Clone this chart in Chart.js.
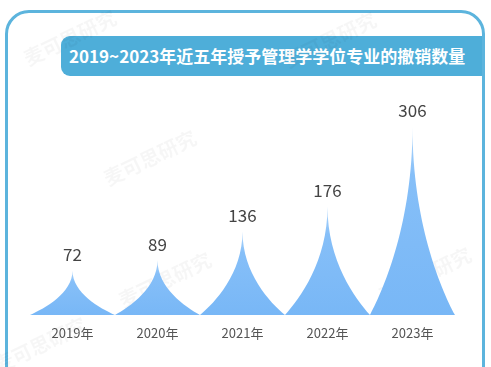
<!DOCTYPE html>
<html><head><meta charset="utf-8">
<script src="https://cdn.jsdelivr.net/npm/chart.js@4/dist/chart.umd.min.js"></script>
<style>
html,body{margin:0;padding:0;background:#fff;width:491px;height:367px;overflow:hidden;font-family:"Noto Sans CJK SC",sans-serif}
#frame{position:absolute;left:5px;top:10px;width:474px;height:420px;border:3px solid #5cb4dd;border-radius:24px;}
#title{position:absolute;left:61px;top:36px;width:421px;height:40px;background:#4eaed9;border-radius:9px 0 0 9px;color:#fff;font-weight:bold;font-size:17px;line-height:40px;padding-left:8px;box-sizing:border-box;white-space:nowrap}
#c{position:absolute;left:0;top:0}
</style></head>
<body>
<div id="frame"></div>
<div id="title">2019~2023年近五年授予管理学学位专业的撤销数量</div>
<canvas id="c" width="491" height="367"></canvas>
<script>
const categories = ["2019年","2020年","2021年","2022年","2023年"];
const revokedCounts = [72, 89, 136, 176, 306];
const watermarkText = "麦可思研究";

const watermarkPlugin = {
  id: 'watermark',
  beforeDatasetsDraw(chart) {
    const ctx = chart.ctx;
    const spots = [[70, 38], [330, 40], [150, 158], [165, 280], [425, 275], [40, 345]];
    ctx.save();
    ctx.fillStyle = 'rgba(0,0,0,0.035)';
    ctx.font = 'bold 20px "Noto Sans CJK SC", sans-serif';
    ctx.textAlign = 'center';
    ctx.textBaseline = 'middle';
    spots.forEach(([px, py]) => {
      ctx.save();
      ctx.translate(px, py);
      ctx.rotate(-0.45);
      ctx.fillText(watermarkText, 0, 0);
      ctx.restore();
    });
    ctx.restore();
  }
};

const spikePlugin = {
  id: 'spikes',
  afterDatasetsDraw(chart) {
    const ctx = chart.ctx;
    const meta = chart.getDatasetMeta(0);
    ctx.save();
    meta.data.forEach((bar, i) => {
      const x = bar.x, top = bar.y, base = bar.base, w = bar.width;
      const hw = w / 2, H = base - top;
      const l = x - hw, r = x + hw;
      ctx.beginPath();
      ctx.moveTo(l, base);
      ctx.bezierCurveTo(l + 0.35 * hw, base - 0.15 * H, x, base - 0.5 * H, x, top);
      ctx.bezierCurveTo(x, base - 0.5 * H, r - 0.35 * hw, base - 0.15 * H, r, base);
      ctx.closePath();
      const g = ctx.createLinearGradient(0, top, 0, base);
      g.addColorStop(0, '#b4d8fb');
      g.addColorStop(0.25, '#86bff8');
      g.addColorStop(1, '#78b7f6');
      ctx.fillStyle = g;
      ctx.fill();
      ctx.fillStyle = '#444';
      ctx.font = '17px "Noto Sans CJK SC", sans-serif';
      ctx.textAlign = 'center';
      ctx.textBaseline = 'middle';
      ctx.fillText(String(revokedCounts[i]), x, top - 16);
    });
    ctx.restore();
  }
};

new Chart(document.getElementById('c'), {
  type: 'bar',
  data: {
    labels: categories,
    datasets: [{
      data: revokedCounts,
      backgroundColor: 'rgba(0,0,0,0)',
      categoryPercentage: 1,
      barPercentage: 1
    }]
  },
  options: {
    responsive: false,
    animation: false,
    layout: { padding: { left: 30, right: 36, top: 106, bottom: 16.4 } },
    plugins: { legend: { display: false }, tooltip: { enabled: false } },
    scales: {
      y: { display: false, min: 0, max: 340 },
      x: {
        grid: { display: false, drawTicks: false },
        border: { display: false },
        ticks: { color: '#555', font: { size: 13, family: '"Noto Sans CJK SC", sans-serif' }, padding: 10 }
      }
    }
  },
  plugins: [watermarkPlugin, spikePlugin]
});
</script>
</body></html>
